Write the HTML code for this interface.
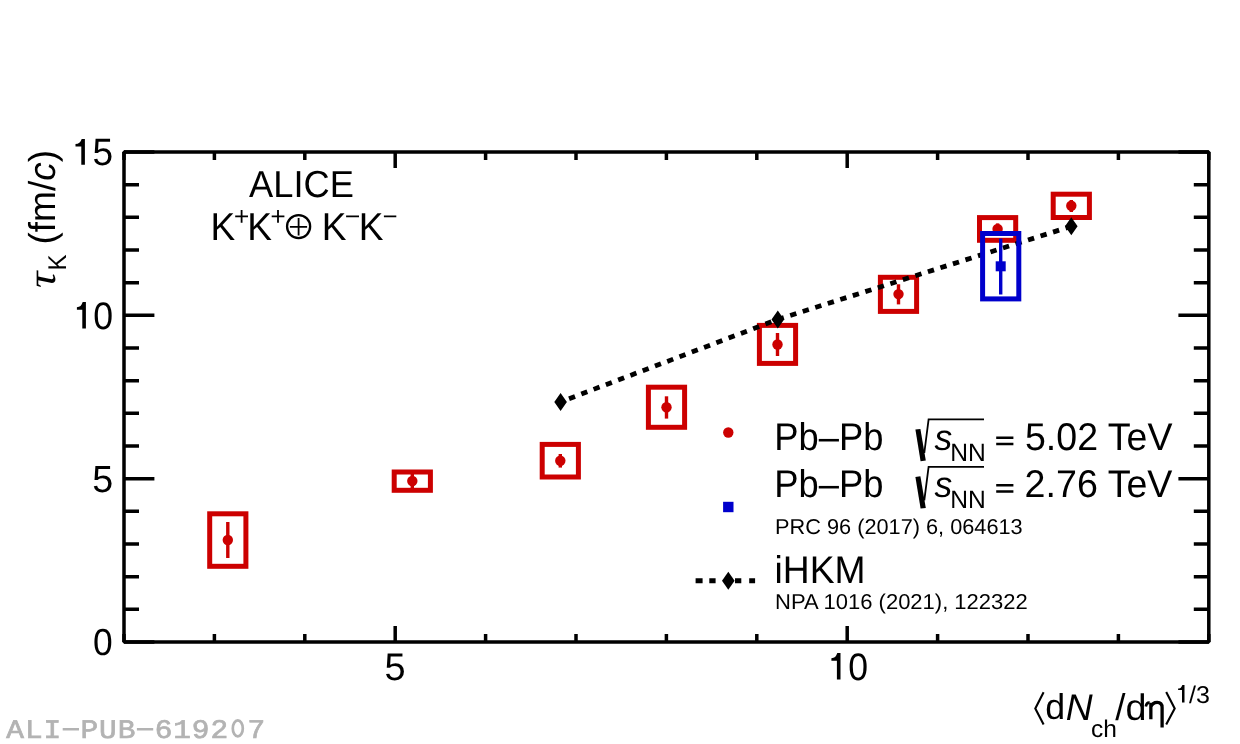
<!DOCTYPE html>
<html><head><meta charset="utf-8"><style>
html,body{margin:0;padding:0;background:#fff;}
svg{display:block;will-change:transform;}
text{text-rendering:geometricPrecision;}
text{font-family:"Liberation Sans",sans-serif;fill:#000;}
</style></head><body>
<svg width="1240" height="744" viewBox="0 0 1240 744">
<rect x="124.0" y="152.0" width="1084.80" height="490.00" fill="none" stroke="#000" stroke-width="3.5" stroke-linejoin="bevel"/>
<path d="M124.0 642.00H154.40M1208.8 642.00H1178.40M124.0 609.33H139.00M1208.8 609.33H1193.80M124.0 576.67H139.00M1208.8 576.67H1193.80M124.0 544.00H139.00M1208.8 544.00H1193.80M124.0 511.33H139.00M1208.8 511.33H1193.80M124.0 478.67H154.40M1208.8 478.67H1178.40M124.0 446.00H139.00M1208.8 446.00H1193.80M124.0 413.33H139.00M1208.8 413.33H1193.80M124.0 380.67H139.00M1208.8 380.67H1193.80M124.0 348.00H139.00M1208.8 348.00H1193.80M124.0 315.33H154.40M1208.8 315.33H1178.40M124.0 282.67H139.00M1208.8 282.67H1193.80M124.0 250.00H139.00M1208.8 250.00H1193.80M124.0 217.33H139.00M1208.8 217.33H1193.80M124.0 184.67H139.00M1208.8 184.67H1193.80M124.0 152.00H154.40M1208.8 152.00H1178.40M124.00 642.0V634.00M124.00 152.0V160.00M214.40 642.0V634.00M214.40 152.0V160.00M304.80 642.0V634.00M304.80 152.0V160.00M395.20 642.0V626.00M395.20 152.0V168.00M485.60 642.0V634.00M485.60 152.0V160.00M576.00 642.0V634.00M576.00 152.0V160.00M666.40 642.0V634.00M666.40 152.0V160.00M756.80 642.0V634.00M756.80 152.0V160.00M847.20 642.0V626.00M847.20 152.0V168.00M937.60 642.0V634.00M937.60 152.0V160.00M1028.00 642.0V634.00M1028.00 152.0V160.00M1118.40 642.0V634.00M1118.40 152.0V160.00M1208.80 642.0V634.00M1208.80 152.0V160.00" stroke="#000" stroke-width="3.5" fill="none"/>
<path d="M84.90 138.90V164.80H81.30V146.41H75.50V143.95C78.70 143.95 80.50 142.27 81.70 138.90Z" fill="#000"/>
<text transform="translate(92.42 165.12) scale(0.9742 1)" style="font-size:38.00px;">5</text>
<path d="M85.90 302.00V328.60H82.30V309.71H76.90V307.19C80.10 307.19 81.50 305.46 82.70 302.00Z" fill="#000"/>
<text transform="translate(93.17 328.82) scale(0.9333 1)" style="font-size:38.17px;">0</text>
<text transform="translate(92.29 491.62) scale(0.9985 1)" style="font-size:37.71px;">5</text>
<text transform="translate(93.08 655.33) scale(0.9453 1)" style="font-size:37.46px;">0</text>
<text transform="translate(384.59 679.92) scale(0.9855 1)" style="font-size:38.43px;">5</text>
<path d="M840.50 653.10V679.60H836.90V660.78H831.40V658.27C834.60 658.27 836.10 656.55 837.30 653.10Z" fill="#000"/>
<text transform="translate(848.18 679.72) scale(0.9299 1)" style="font-size:38.31px;">0</text>
<rect x="209.70" y="513.8" width="36.2" height="52.50" fill="none" stroke="#cc0000" stroke-width="5"/>
<path d="M227.8 522V558" stroke="#cc0000" stroke-width="3.4"/>
<circle cx="227.8" cy="540" r="5.2" fill="#cc0000"/>
<rect x="394.20" y="472" width="36.2" height="18.30" fill="none" stroke="#cc0000" stroke-width="5"/>
<path d="M412.3 474V488" stroke="#cc0000" stroke-width="3.4"/>
<circle cx="412.3" cy="481" r="5.2" fill="#cc0000"/>
<rect x="542.20" y="444.4" width="36.2" height="32.60" fill="none" stroke="#cc0000" stroke-width="5"/>
<path d="M560.3 454V467.6" stroke="#cc0000" stroke-width="3.4"/>
<circle cx="560.3" cy="460.7" r="5.2" fill="#cc0000"/>
<rect x="648.40" y="387.2" width="36.2" height="40.10" fill="none" stroke="#cc0000" stroke-width="5"/>
<path d="M666.5 396.3V418.6" stroke="#cc0000" stroke-width="3.4"/>
<circle cx="666.5" cy="407.3" r="5.2" fill="#cc0000"/>
<rect x="759.40" y="325.4" width="36.2" height="38.00" fill="none" stroke="#cc0000" stroke-width="5"/>
<path d="M777.5 333V356" stroke="#cc0000" stroke-width="3.4"/>
<circle cx="777.5" cy="344.5" r="5.2" fill="#cc0000"/>
<rect x="880.40" y="277.3" width="36.2" height="34.10" fill="none" stroke="#cc0000" stroke-width="5"/>
<path d="M898.5 284.3V304.4" stroke="#cc0000" stroke-width="3.4"/>
<circle cx="898.5" cy="294.1" r="5.2" fill="#cc0000"/>
<rect x="979.50" y="217.6" width="36.2" height="22.70" fill="none" stroke="#cc0000" stroke-width="5"/>
<path d="M997.6 223.4V235" stroke="#cc0000" stroke-width="3.4"/>
<circle cx="997.6" cy="229.0" r="5.2" fill="#cc0000"/>
<rect x="1053.20" y="194.2" width="36.2" height="23.30" fill="none" stroke="#cc0000" stroke-width="5"/>
<path d="M1071.3 200V212" stroke="#cc0000" stroke-width="3.4"/>
<circle cx="1071.3" cy="205.7" r="5.2" fill="#cc0000"/>
<path d="M560.6 401.9L777.8 319.4L1071.3 226.3" stroke="#000" stroke-width="4.8" stroke-dasharray="6.4 6.73" stroke-dashoffset="4.1" fill="none"/>
<path d="M554.30 401.90L560.60 392.90L566.90 401.90L560.60 410.90ZM771.50 319.40L777.80 310.40L784.10 319.40L777.80 328.40ZM1065.00 226.30L1071.30 217.30L1077.60 226.30L1071.30 235.30Z" fill="#000"/>
<rect x="982.60" y="233.5" width="36.2" height="65.4" fill="none" stroke="#0000cc" stroke-width="5"/>
<path d="M1000.7 238.6V294.5" stroke="#0000cc" stroke-width="3.4"/>
<rect x="995.70" y="261.30" width="10" height="10" fill="#0000cc"/>
<circle cx="728.3" cy="432.5" r="5.2" fill="#cc0000"/>
<rect x="723.1" y="501.8" width="10.4" height="10.4" fill="#0000cc"/>
<path d="M695.6 580.8H702.6M709.3 580.8H715.6M735 580.8H741.3M749.2 580.8H755.1" stroke="#000" stroke-width="5"/>
<path d="M722.00 580.80L728.30 571.80L734.60 580.80L728.30 589.80Z" fill="#000"/>
<text transform="translate(774.29 449.90) scale(0.9427 1)" style="font-size:38.60px;">Pb–Pb</text>
<path d="M915.4 429.60L920.4 428.90L925.8 460.60L920.6 461.20Z" fill="#000"/>
<path d="M924.3 453.00L928.6 419.40H984" stroke="#000" stroke-width="1.8" fill="none"/>
<text transform="translate(934.60 449.84) scale(0.9740 1)" style="font-size:36.36px;font-style:italic">s</text>
<text transform="translate(950.33 460.60) scale(0.9759 1)" style="font-size:25.22px;">NN</text>
<path d="M996.2 437.80H1013.4M996.2 444.10H1013.4" stroke="#000" stroke-width="2.5"/>
<text transform="translate(1025.00 449.60) scale(0.9728 1)" style="font-size:38.60px;">5.02 TeV</text>
<text transform="translate(774.29 497.30) scale(0.9427 1)" style="font-size:38.60px;">Pb–Pb</text>
<path d="M915.4 477.00L920.4 476.30L925.8 508.00L920.6 508.60Z" fill="#000"/>
<path d="M924.3 500.40L928.6 466.80H984" stroke="#000" stroke-width="1.8" fill="none"/>
<text transform="translate(934.60 497.24) scale(0.9740 1)" style="font-size:36.36px;font-style:italic">s</text>
<text transform="translate(950.33 508.00) scale(0.9759 1)" style="font-size:25.22px;">NN</text>
<path d="M996.2 485.20H1013.4M996.2 491.50H1013.4" stroke="#000" stroke-width="2.5"/>
<text transform="translate(1024.62 497.00) scale(0.9754 1)" style="font-size:38.60px;">2.76 TeV</text>
<text transform="translate(775.06 534.40) scale(1.0135 1)" style="font-size:21.45px;">PRC 96 (2017) 6, 064613</text>
<text transform="translate(774.49 582.80) scale(0.9650 1)" style="font-size:38.60px;">iHKM</text>
<text transform="translate(775.04 608.80) scale(1.0260 1)" style="font-size:21.45px;">NPA 1016 (2021), 122322</text>
<text transform="translate(249.10 196.52) scale(0.9638 1)" style="font-size:37.61px;">ALICE</text>
<text transform="translate(210.54 239.50) scale(0.9531 1)" style="font-size:38.84px;">K</text>
<text transform="translate(247.24 239.50) scale(0.9531 1)" style="font-size:38.84px;">K</text>
<text transform="translate(321.74 239.50) scale(0.9531 1)" style="font-size:38.84px;">K</text>
<text transform="translate(358.74 239.50) scale(0.9531 1)" style="font-size:38.84px;">K</text>
<path d="M235.2 216.4H248M241.6 209.9V222.8M271.7 216.4H284.4M278 209.9V222.8M346.1 216.4H359M383.9 216.4H396.3" stroke="#000" stroke-width="1.8"/>
<circle cx="298.6" cy="226.6" r="11.55" fill="none" stroke="#000" stroke-width="2.3"/><path d="M289.9 226.8H307.1M298.6 218V235.5" stroke="#000" stroke-width="1.8"/>
<g transform="translate(0 0)">
<text transform="translate(54.90 287.92) rotate(-90) scale(1.1486 1)" style="font-size:40.00px;font-family:'Liberation Serif';font-style:italic">τ</text>
<text transform="translate(66.00 270.42) rotate(-90) scale(0.9370 1)" style="font-size:25.65px;">K</text>
<text transform="translate(55.14 244.52) rotate(-90) scale(0.9891 1)" style="font-size:37.45px;">(fm/<tspan style="font-style:italic">c</tspan>)</text>
</g>
<path d="M1043.6 692.3L1035.3 708.4L1043.6 724.5M1166.2 692.1L1174.7 708.4L1166.2 724.6" stroke="#000" stroke-width="2.1" fill="none"/>
<text transform="translate(1045.17 719.24) scale(0.9953 1)" style="font-size:35.95px;">d</text>
<text transform="translate(1065.68 719.60) scale(1.0000 1)" style="font-size:37.25px;font-style:italic">N</text>
<text transform="translate(1091.02 736.66) scale(1.0196 1)" style="font-size:24.05px;">ch</text>
<text transform="translate(1115.30 720.00) scale(0.9909 1)" style="font-size:37.12px;">/</text>
<text transform="translate(1125.49 719.53) scale(1.0240 1)" style="font-size:36.89px;">d</text>
<path d="M1150.85 702.8V719.2M1150.85 707C1152 703.6 1154.6 702.3 1157.2 702.3C1160.4 702.3 1162.1 704.2 1162.1 707.5V727.4" stroke="#000" stroke-width="3.3" fill="none"/><path d="M1145.8 706.4C1146.3 703.6 1147.8 702.4 1149.6 702.6" stroke="#000" stroke-width="2.6" fill="none"/>
<path d="M1184.50 685.00V702.60H1182.00V690.10H1178.10V688.43C1181.30 688.43 1181.20 687.29 1182.40 685.00Z" fill="#000"/>
<text transform="translate(1189.10 702.66) scale(1.0361 1)" style="font-size:24.19px;">/3</text>
<text x="13.82" y="737.7" transform="scale(1.1 1)" text-anchor="middle" style="font-family:'Liberation Mono';font-size:26.8px;fill:#b3b3b3;stroke:#b3b3b3;stroke-width:0.7px">A</text>
<text x="30.68" y="737.7" transform="scale(1.1 1)" text-anchor="middle" style="font-family:'Liberation Mono';font-size:26.8px;fill:#b3b3b3;stroke:#b3b3b3;stroke-width:0.7px">L</text>
<text x="47.55" y="737.7" transform="scale(1.1 1)" text-anchor="middle" style="font-family:'Liberation Mono';font-size:26.8px;fill:#b3b3b3;stroke:#b3b3b3;stroke-width:0.7px">I</text>
<text x="81.27" y="737.7" transform="scale(1.1 1)" text-anchor="middle" style="font-family:'Liberation Mono';font-size:26.8px;fill:#b3b3b3;stroke:#b3b3b3;stroke-width:0.7px">P</text>
<text x="98.14" y="737.7" transform="scale(1.1 1)" text-anchor="middle" style="font-family:'Liberation Mono';font-size:26.8px;fill:#b3b3b3;stroke:#b3b3b3;stroke-width:0.7px">U</text>
<text x="115.00" y="737.7" transform="scale(1.1 1)" text-anchor="middle" style="font-family:'Liberation Mono';font-size:26.8px;fill:#b3b3b3;stroke:#b3b3b3;stroke-width:0.7px">B</text>
<text x="148.73" y="737.7" transform="scale(1.1 1)" text-anchor="middle" style="font-family:'Liberation Mono';font-size:26.8px;fill:#b3b3b3;stroke:#b3b3b3;stroke-width:0.7px">6</text>
<text x="165.59" y="737.7" transform="scale(1.1 1)" text-anchor="middle" style="font-family:'Liberation Mono';font-size:26.8px;fill:#b3b3b3;stroke:#b3b3b3;stroke-width:0.7px">1</text>
<text x="182.45" y="737.7" transform="scale(1.1 1)" text-anchor="middle" style="font-family:'Liberation Mono';font-size:26.8px;fill:#b3b3b3;stroke:#b3b3b3;stroke-width:0.7px">9</text>
<text x="199.32" y="737.7" transform="scale(1.1 1)" text-anchor="middle" style="font-family:'Liberation Mono';font-size:26.8px;fill:#b3b3b3;stroke:#b3b3b3;stroke-width:0.7px">2</text>
<ellipse cx="237.80" cy="728.4" rx="5.0" ry="8.0" fill="none" stroke="#b3b3b3" stroke-width="2.7"/>
<text x="233.05" y="737.7" transform="scale(1.1 1)" text-anchor="middle" style="font-family:'Liberation Mono';font-size:26.8px;fill:#b3b3b3;stroke:#b3b3b3;stroke-width:0.7px">7</text>
<path d="M62.70 729.25H79.00M136.90 729.25H153.20" stroke="#b3b3b3" stroke-width="2.4"/>
</svg></body></html>
